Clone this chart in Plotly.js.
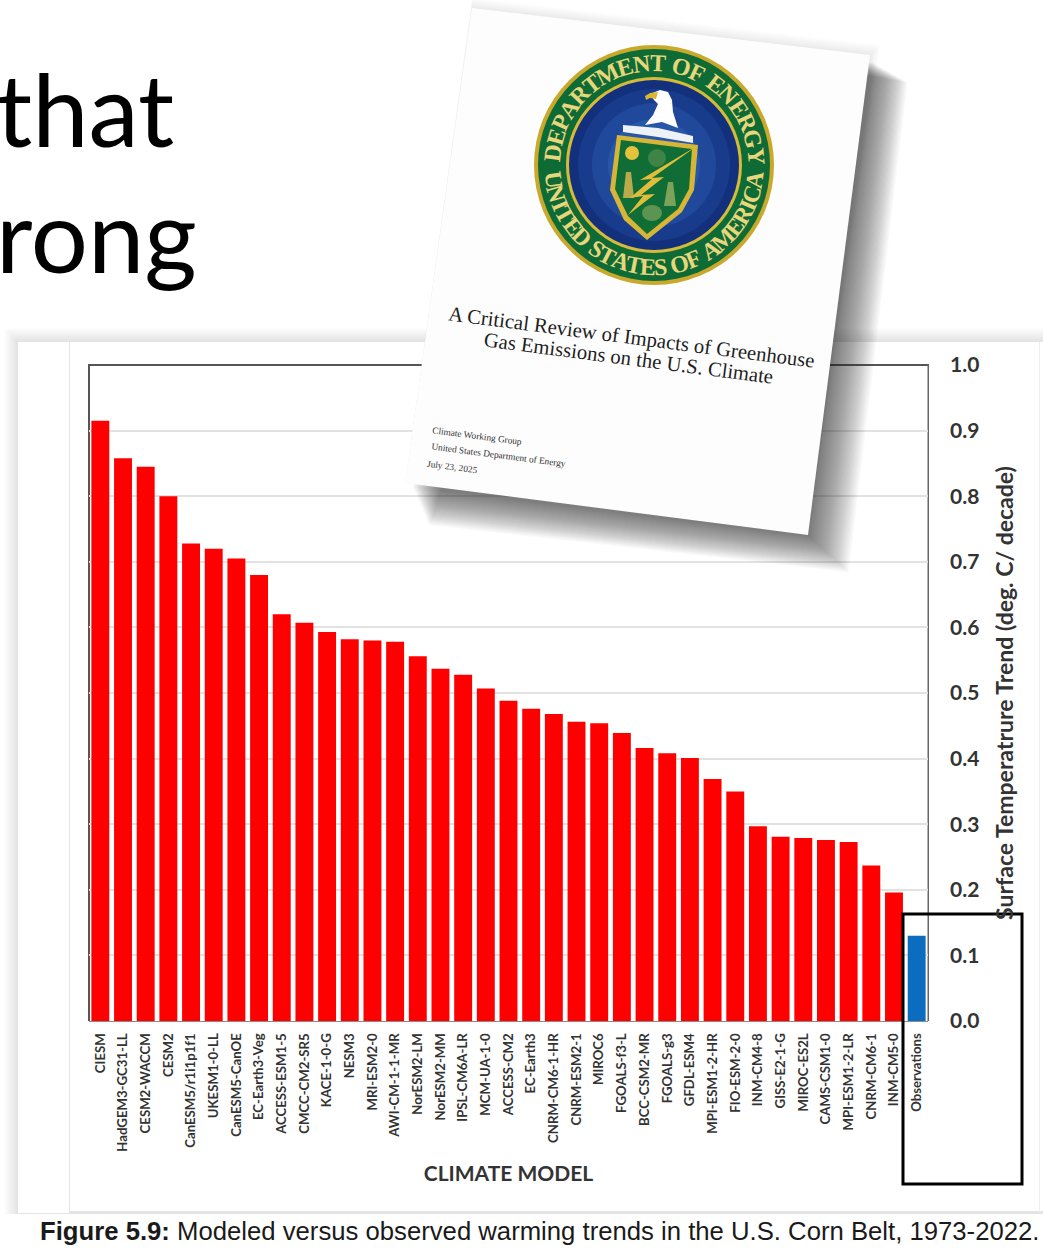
<!DOCTYPE html>
<html><head><meta charset="utf-8">
<script src="https://cdn.plot.ly/plotly-3.0.1.min.js"></script>
<style>html,body{margin:0;padding:0;background:#fff;overflow:hidden}</style>
</head><body><div id="chart" style="width:1043px;height:1250px"></div>
<script>
const models = ["CIESM","HadGEM3-GC31-LL","CESM2-WACCM","CESM2","CanESM5/r1i1p1f1","UKESM1-0-LL","CanESM5-CanOE","EC-Earth3-Veg","ACCESS-ESM1-5","CMCC-CM2-SR5","KACE-1-0-G","NESM3","MRI-ESM2-0","AWI-CM-1-1-MR","NorESM2-LM","NorESM2-MM","IPSL-CM6A-LR","MCM-UA-1-0","ACCESS-CM2","EC-Earth3","CNRM-CM6-1-HR","CNRM-ESM2-1","MIROC6","FGOALS-f3-L","BCC-CSM2-MR","FGOALS-g3","GFDL-ESM4","MPI-ESM1-2-HR","FIO-ESM-2-0","INM-CM4-8","GISS-E2-1-G","MIROC-ES2L","CAMS-CSM1-0","MPI-ESM1-2-LR","CNRM-CM6-1","INM-CM5-0","Observations"];
const trends = [0.915,0.858,0.845,0.800,0.728,0.720,0.705,0.680,0.620,0.607,0.593,0.582,0.580,0.578,0.556,0.537,0.528,0.507,0.488,0.476,0.468,0.456,0.454,0.439,0.416,0.408,0.401,0.369,0.350,0.297,0.281,0.279,0.276,0.273,0.237,0.196,0.130];
const yTicks = [0,0.1,0.2,0.3,0.4,0.5,0.6,0.7,0.8,0.9,1.0];
const barColors = models.map(m => m === "Observations" ? "#0b6cc0" : "#ff0000");

// page-pixel helpers for the decorative slide elements
const L=89,R=928,T=365,B=1021;
const X=p=>(p-L)/(R-L), Y=p=>(B-p)/(B-T);
const poly=(pts,fill,extra)=>Object.assign({type:'path',xref:'paper',yref:'paper',
  path:'M'+pts.map(q=>X(q[0]).toFixed(5)+','+Y(q[1]).toFixed(5)).join('L')+'Z',fillcolor:fill,line:{width:0}},extra||{});
const ell=(cx,cy,rx,ry,fill)=>({type:'circle',xref:'paper',yref:'paper',x0:X(cx-rx),x1:X(cx+rx),y0:Y(cy+ry),y1:Y(cy-ry),fillcolor:fill,line:{width:0}});
const rect=(x0,y0,x1,y1,o)=>Object.assign({type:'rect',xref:'paper',yref:'paper',x0:X(x0),x1:X(x1),y0:Y(y1),y1:Y(y0),line:{width:0}},o);
const txt=(s,x,y,size,color,family,o)=>Object.assign({text:s,xref:'paper',yref:'paper',x:X(x),y:Y(y),showarrow:false,font:{size,color,family},xanchor:'center',yanchor:'middle'},o||{});

const shapes=[], ann=[];
// panel soft edge
for(let i=14;i>0;i-=1){shapes.push(rect(18-i,342-i,1060,1214,{fillcolor:'rgba(120,120,120,0.011)',layer:'below'}));}
shapes.push(rect(18,342,1043,1213,{fillcolor:'#ffffff',layer:'below'}));
shapes.push(rect(69,342,70,1212,{fillcolor:'#e6e6e6',layer:'below'}));
shapes.push(rect(69,1211,1043,1213,{fillcolor:'#e4e4e4',layer:'below'}));
shapes.push(rect(1039,342,1040,1212,{fillcolor:'#eeeeee',layer:'below'}));

// document shadow
const doc=[[472,8],[870,55],[808,535],[405,483]];
for(let i=0;i<10;i++){
  const s=10-i;
  shapes.push(poly([[472,8-s],[870+s,55-s],[808,535],[405,483]],'rgba(90,90,90,0.012)'));
}
for(let i=0;i<34;i++){
  const s=34-i;
  shapes.push(poly([[600,30],[872+s*1.05,62+s*0.6],[808+s*1.2,535+s*1.1],[412+s*0.5,486+s*1.15]],'rgba(30,30,30,0.024)'));
}
shapes.push(poly(doc,'#fdfdfd'));

// seal
const sx=654,sy=165;
shapes.push(ell(sx,sy,120,120,'#c9a92c'));
shapes.push(ell(sx,sy,116,116,'#0f6b36'));
shapes.push(ell(sx,sy,88,88,'#d6bb3a'));
shapes.push(ell(sx,sy,85,85,'#12307c'));
shapes.push(ell(sx,sy,76,76,'#193b8c'));
shapes.push(ell(sx,sy,62,62,'#20499b'));
shapes.push(ell(sx,sy,46,46,'#2757a8'));
// eagle
shapes.push(poly([[650,94],[660,90],[668,92],[672,100],[673,112],[678,128],[662,122],[645,125],[653,115],[658,104],[654,100]],'#ffffff'));
shapes.push(poly([[645,96],[650,93],[658,92],[656,99],[650,98],[646,100]],'#d9b733'));
shapes.push(poly([[623,125],[658,128],[693,136],[693,143],[658,137],[623,132]],'#eef1f6'));
// shield
shapes.push(poly([[617,135],[698,145],[694,190],[682,212],[647,240],[624,220],[610,190]],'#d7b637'));
shapes.push(poly([[621,140],[692,149],[689,189],[678,209],[647,234],[628,216],[615,189]],'#0f6d35'));
// device emblems and lightning
shapes.push(ell(632,153,7,7,'#e6c13c'));
shapes.push(ell(657,158,9,9,'#3f8446'));
shapes.push(poly([[626,172],[631,172],[634,198],[623,198]],'#b9ab4c'));
shapes.push(poly([[668,182],[673,182],[676,206],[664,206]],'#7da35a'));
shapes.push(ell(652,213,10,8,'#5c9452'));
shapes.push(poly([[697,146],[652,178],[664,177],[641,195],[655,194],[628,215],[643,196],[630,198],[652,179],[640,180]],'#e0bd3a'));

// seal lettering, spaced by measured glyph widths
const meas=document.createElement('canvas').getContext('2d');
meas.font='bold 24px "Liberation Serif"';
const ring=(s,a0,a1,flip)=>{
  const chars=[...s], w=chars.map(c=>meas.measureText(c).width+1.5);
  const total=w.reduce((p,q)=>p+q,0);
  let acc=0;
  chars.forEach((c,i)=>{
    const deg=a0+(a1-a0)*(acc+w[i]/2)/total, a=deg*Math.PI/180;
    acc+=w[i];
    const px=sx+102*Math.sin(a), py=sy-102*Math.cos(a);
    const rot=flip? deg-180 : deg;
    if(c!==' ') ann.push(txt(c,px,py,24,'#e8d67a','Liberation Serif',{textangle:rot,font:{size:24,color:'#e8d67a',family:'Liberation Serif',weight:700}}));
  });
};
ring("DEPARTMENT OF ENERGY",-88,90,false);
ring("UNITED STATES OF AMERICA",266,94,true);

// document text
ann.push(txt("A Critical Review of Impacts of Greenhouse",631,338,20.7,'#1f1f1f','Liberation Serif',{textangle:7.4}));
ann.push(txt("Gas Emissions on the U.S. Climate",628,358,20.7,'#1f1f1f','Liberation Serif',{textangle:7.4}));
ann.push(txt("Climate Working Group",477,436,9.3,'#333','Liberation Serif',{textangle:7.4}));
ann.push(txt("United States Department of Energy",498,455,9.3,'#333','Liberation Serif',{textangle:7.4}));
ann.push(txt("July 23, 2025",452,467,9.3,'#333','Liberation Serif',{textangle:7.4}));

// slide text
ann.push(txt("that",-6,171,101,'#000','Lato',{xanchor:'left',yanchor:'bottom'}));
ann.push(txt("rong",-6,297,101,'#000','Lato',{xanchor:'left',yanchor:'bottom'}));
// caption
ann.push(txt("<b>Figure 5.9:</b> Modeled versus observed warming trends in the U.S. Corn Belt, 1973-2022.",38,1231,25.7,'#1a1a1a','Liberation Sans',{xanchor:'left'}));

// highlight box
shapes.push(rect(903,914,1022,1184,{fillcolor:'rgba(0,0,0,0)',line:{color:'#000',width:3}}));

Plotly.newPlot('chart',[{
  type:'bar',x:models,y:trends,marker:{color:barColors},hoverinfo:'x+y'
}],{
  width:1043,height:1250,paper_bgcolor:'#fff',plot_bgcolor:'#fff',
  margin:{l:L,r:1043-R,t:T,b:1250-B,pad:0},
  bargap:0.21,showlegend:false,
  font:{family:'Lato',color:'#333'},
  xaxis:{type:'category',tickangle:-90,tickfont:{size:13.2,color:'#333',family:'Lato',weight:700},
    ticks:'',ticklabelstandoff:6,showline:true,linecolor:'#8a8a8a',linewidth:1,mirror:false,showgrid:false,
    automargin:false,range:[-0.5,36.5],
    title:{text:'CLIMATE MODEL',font:{size:21,color:'#333',family:'Lato',weight:700},standoff:15}},
  yaxis:{side:'right',range:[0,1],tickvals:yTicks,ticktext:yTicks.map(v=>v.toFixed(1)),
    tickfont:{size:21,color:'#333',family:'Lato',weight:700},ticks:'',ticklabelstandoff:21,
    gridcolor:'#e2e2e2',gridwidth:2,zeroline:false,showline:false,automargin:false,
    title:{text:'Surface Temperatrure Trend (deg. C/ decade)',font:{size:23,color:'#333',family:'Lato',weight:700},standoff:18}},
  shapes:shapes.concat([
    rect(L-1,T-1,L+1,B,{fillcolor:'#555',layer:'below'}),
    rect(L-1,T-1,R+1,T+1,{fillcolor:'#555',layer:'below'}),
    rect(R-0.5,T-1,R+1,B,{fillcolor:'#666',layer:'below'})
  ]),
  annotations:ann
},{displayModeBar:false,staticPlot:true});
</script></body></html>
